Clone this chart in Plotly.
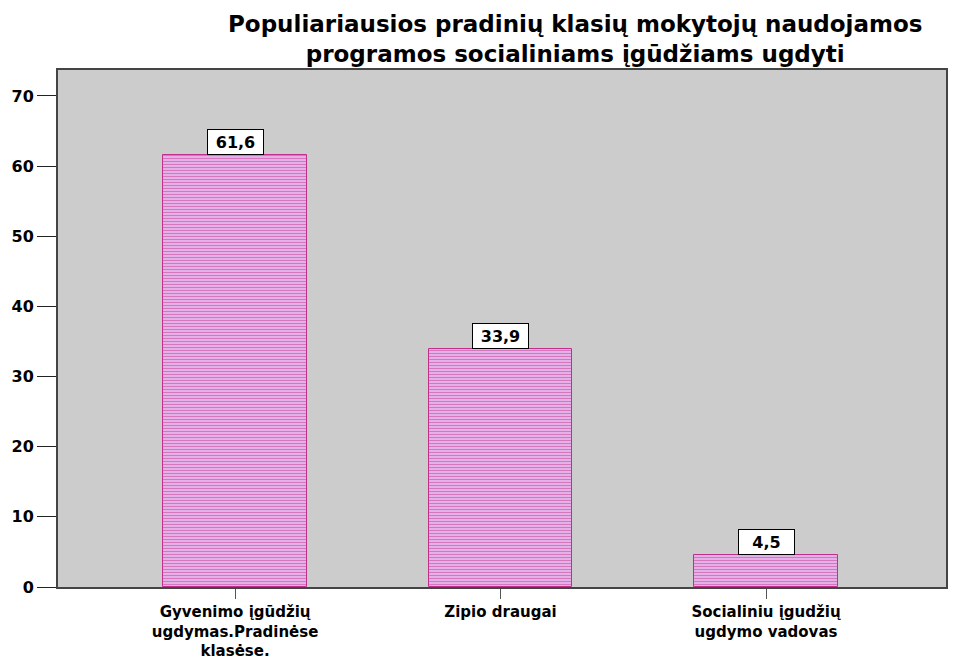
import plotly.graph_objects as go

categories = ["Gyvenimo įgūdžių<br>ugdymas.Pradinėse<br>klasėse.",
              "Zipio draugai",
              "Socialiniu įgudžių<br>ugdymo vadovas"]
values = [61.6, 33.9, 4.5]
labels = ["61,6", "33,9", "4,5"]
yticks = [0, 10, 20, 30, 40, 50, 60, 70]

FONT = "DejaVu Sans, Arial"

fig = go.Figure()
fig.add_trace(go.Bar(
    x=[0, 1, 2], y=values, width=0.54,
    marker=dict(color="#e4b0e8", line=dict(color="#c0308a", width=1),
                pattern=dict(shape="-", fgcolor="#c83c96", bgcolor="#e4b0e8",
                             size=3, solidity=0.35)),
    hoverinfo="skip",
))

# value boxes sitting on top of each bar
for i, (v, t) in enumerate(zip(values, labels)):
    fig.add_annotation(x=i, y=v, text="<b>" + t + "</b>", showarrow=False,
                       yanchor="bottom", yshift=0, bgcolor="white",
                       bordercolor="black", borderwidth=1, borderpad=1,
                       width=53, height=22,
                       font=dict(size=16, color="black", family=FONT))

# two-line title placed just above the frame
fig.add_annotation(x=0.582, y=1, xref="paper", yref="paper",
                   xanchor="center", yanchor="bottom", yshift=1,
                   text="<b>Populiariausios pradinių klasių mokytojų naudojamos<br>programos socialiniams įgūdžiams ugdyti</b>",
                   showarrow=False, font=dict(size=23, color="black", family=FONT))

fig.update_layout(
    width=980, height=659,
    margin=dict(l=50, r=42, t=62, b=80, autoexpand=False),
    paper_bgcolor="white", plot_bgcolor="#cccccc",
    font=dict(family=FONT, color="black"),
    showlegend=False,
    bargap=0,
)
fig.update_xaxes(range=[-0.667, 2.678], tickmode="array", tickvals=[0, 1, 2],
                 ticktext=["<b>" + c + "</b>" for c in categories],
                 ticks="outside", ticklen=10, tickcolor="#555", tickfont=dict(size=15),
                 showline=True, linecolor="#444", linewidth=2, mirror=True,
                 showgrid=False, zeroline=False, automargin=False)
fig.update_yaxes(range=[0, 73.7], tickvals=yticks,
                 ticktext=["<b>%d</b>" % t for t in yticks],
                 ticks="outside", ticklen=19, tickcolor="#222", tickfont=dict(size=16),
                 showline=True, linecolor="#444", linewidth=2, mirror=True,
                 showgrid=False, zeroline=False, automargin=False)

fig.write_html("out.html")
